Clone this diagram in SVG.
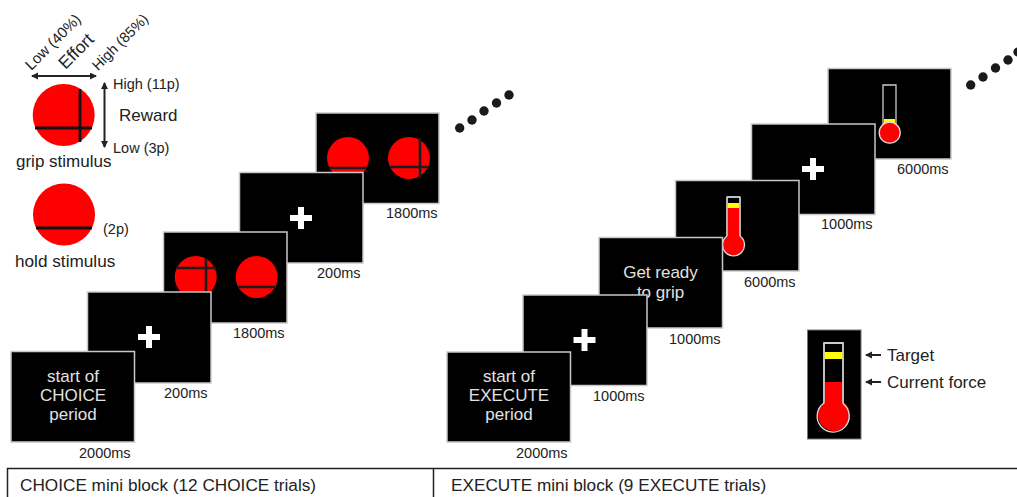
<svg xmlns="http://www.w3.org/2000/svg" width="1017" height="497" viewBox="0 0 1017 497">
<style>
text{font-family:"Liberation Sans",Arial,sans-serif;fill:#222}
.t{font-size:14.5px}
.l{font-size:17.2px}
.s{font-size:17px;fill:#e2e2e2;text-anchor:middle}
.scr{fill:#000;stroke:#c8c8c8;stroke-width:1.5}
.red{fill:#f00}
.bar{stroke:#1c1c1c;stroke-width:2.600;fill:none}
.bar0{stroke:#111;stroke-width:2.800;fill:none}
.cross{fill:#fff}
.dot{fill:#1a1a1a}
.th{fill:#f00;stroke:#ddd;stroke-width:1.3}
.tube{fill:#000;stroke:#ccc;stroke-width:1.3}
.yel{fill:#ff0}
.arr{stroke:#222;stroke-width:2;fill:none}
</style>
<defs>
<marker id="ah" markerUnits="userSpaceOnUse" markerWidth="8" markerHeight="8" refX="6" refY="3.5" orient="auto-start-reverse"><path d="M0 0L7 3.5L0 7Z" fill="#222"/></marker>
<path id="plus" d="M-3-11H3V-3H11V3H3V11H-3V3H-11V-3H-3Z"/>
</defs>
<rect width="1017" height="497" fill="#fff"/>

<g id="legend-grip">
<circle class="red" cx="63.7" cy="115" r="31"/>
<path class="bar0" d="M35 128H92M80 89V142"/>
<text transform="translate(53 42) rotate(-45)" text-anchor="middle" dy="5" font-size="15">Low (40%)</text>
<text transform="translate(76 51) rotate(-45)" text-anchor="middle" dy="6" font-size="17.500">Effort</text>
<text class="t" transform="translate(120 42) rotate(-45)" text-anchor="middle" dy="5">High (85%)</text>
<text class="t" x="113" y="89">High (11p)</text>
<text x="119" y="121" font-size="17">Reward</text>
<text class="t" x="113" y="153">Low (3p)</text>
<text x="16" y="167" font-size="17">grip stimulus</text>
</g>
<g id="legend-hold">
<circle class="red" cx="64" cy="214.5" r="31"/>
<path class="bar0" d="M36 228H92"/>
<text class="t" x="103" y="234">(2p)</text>
<text x="15" y="267" font-size="17.200">hold stimulus</text>
</g>

<g id="choice-5">
<rect class="scr" x="316" y="113" width="123" height="90.500"/>
<circle class="red" cx="348" cy="158" r="21"/><circle class="red" cx="409" cy="158" r="21"/>
<path class="bar" d="M329 168H367M390 167H428M420 138V178"/>
<text class="t" x="386" y="218">1800ms</text>
</g>
<g id="choice-4">
<rect class="scr" x="239.500" y="172.500" width="123.500" height="90.500"/>
<use href="#plus" class="cross" x="301" y="218"/>
<text class="t" x="317" y="278">200ms</text>
</g>
<g id="choice-3">
<rect class="scr" x="163.500" y="232" width="123.500" height="91"/>
<circle class="red" cx="195.700" cy="277" r="21"/><circle class="red" cx="256.700" cy="277" r="21"/>
<path class="bar" d="M176 268H216M206 258V296M238 287H276"/>
<text class="t" x="233" y="338">1800ms</text>
</g>
<g id="choice-2">
<rect class="scr" x="87.500" y="292" width="123.500" height="91"/>
<use href="#plus" class="cross" x="149" y="337"/>
<text class="t" x="164" y="398">200ms</text>
</g>
<g id="choice-1">
<rect class="scr" x="11" y="351.500" width="123.500" height="90.500"/>
<text class="s" x="73" y="382">start of</text>
<text class="s" x="73" y="401">CHOICE</text>
<text class="s" x="73" y="420">period</text>
<text class="t" x="79" y="458">2000ms</text>
</g>
<g id="dots-choice">
<circle class="dot" cx="459.700" cy="128" r="4.700"/><circle class="dot" cx="472" cy="120" r="4.700"/><circle class="dot" cx="484" cy="111" r="4.700"/><circle class="dot" cx="496.500" cy="103" r="4.700"/><circle class="dot" cx="509" cy="95" r="4.700"/>
</g>

<g id="execute-6">
<rect class="scr" x="828" y="68.500" width="123" height="90.500"/>
<path class="tube" d="M883 85H896V124H883Z"/>
<rect class="yel" x="884" y="119" width="11" height="5"/>
<circle class="th" cx="889.700" cy="132.700" r="10.500"/>
<text class="t" x="897" y="174">6000ms</text>
</g>
<g id="execute-5">
<rect class="scr" x="751.500" y="124" width="123.500" height="90.500"/>
<use href="#plus" class="cross" x="813" y="169"/>
<text class="t" x="821" y="229">1000ms</text>
</g>
<g id="execute-4">
<rect class="scr" x="675.500" y="180.500" width="123.500" height="90.500"/>
<path class="tube" d="M727 197H740V240H727Z"/>
<rect class="red" x="727.700" y="208" width="11.600" height="34"/>
<circle class="red" cx="733.500" cy="245" r="11"/>
<path d="M727 197V236M740 197V236M727 197H740" fill="none" stroke="#ccc" stroke-width="1.300"/>
<path d="M740 236A11 11 0 1 1 727 236" fill="none" stroke="#ddd" stroke-width="1.300"/>
<rect class="yel" x="727.700" y="203" width="11.600" height="5"/>
<text class="t" x="744" y="287">6000ms</text>
</g>
<g id="execute-3">
<rect class="scr" x="599" y="237.500" width="123.500" height="90.500"/>
<text class="s" x="660.500" y="278">Get ready</text>
<text class="s" x="660.500" y="298">to grip</text>
<text class="t" x="669" y="344">1000ms</text>
</g>
<g id="execute-2">
<rect class="scr" x="523" y="295" width="124" height="90.500"/>
<use href="#plus" class="cross" x="584.500" y="340"/>
<text class="t" x="593" y="401">1000ms</text>
</g>
<g id="execute-1">
<rect class="scr" x="447" y="352" width="123.500" height="90"/>
<text class="s" x="509" y="382">start of</text>
<text class="s" x="509" y="401">EXECUTE</text>
<text class="s" x="509" y="420">period</text>
<text class="t" x="516" y="458">2000ms</text>
</g>
<g id="dots-execute">
<circle class="dot" cx="970.700" cy="85" r="4.700"/><circle class="dot" cx="983" cy="77" r="4.700"/><circle class="dot" cx="995.500" cy="68" r="4.700"/><circle class="dot" cx="1008" cy="60" r="4.700"/><circle class="dot" cx="1018" cy="52" r="4.700"/>
</g>

<g id="thermometer-legend">
<rect x="807.500" y="330" width="53.500" height="109" fill="#000" stroke="#777" stroke-width="1"/>
<path class="tube" d="M824 343H843V404H824Z"/>
<rect class="red" x="824.700" y="382" width="17.600" height="26"/>
<circle class="red" cx="834" cy="415" r="16"/>
<path d="M843 403.500A16 16 0 1 1 824 403V343H843Z" fill="none" stroke="#ddd" stroke-width="1.300"/>
<rect class="yel" x="824.700" y="352" width="17.600" height="7"/>
<text x="887" y="361" font-size="17">Target</text>
<text x="887" y="388" font-size="17">Current force</text>
</g>

<g id="connectors">
<path class="arr" d="M32 76H96" marker-start="url(#ah)" marker-end="url(#ah)"/>
<path class="arr" d="M104.500 83V147" marker-start="url(#ah)" marker-end="url(#ah)"/>
<path class="arr" d="M881 355H866" marker-end="url(#ah)"/>
<path class="arr" d="M881 382H866" marker-end="url(#ah)"/>
</g>

<g id="table">
<path d="M7.500 497V468.500H1017M433.500 468.500V497" fill="none" stroke="#222" stroke-width="1.500"/>
<text class="l" x="20" y="491">CHOICE mini block (12 CHOICE trials)</text>
<text class="l" x="451" y="491">EXECUTE mini block (9 EXECUTE trials)</text>
</g>
</svg>
